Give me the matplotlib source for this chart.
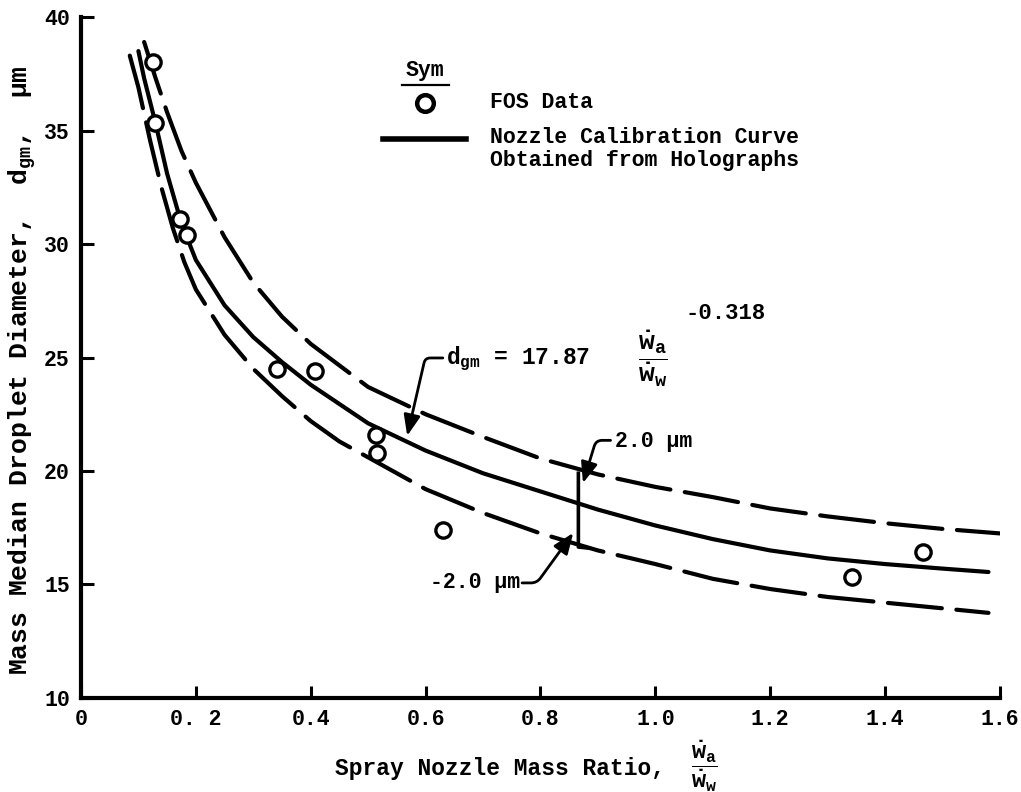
import matplotlib
matplotlib.use('Agg')
import matplotlib.pyplot as plt
from matplotlib.lines import Line2D

# ---- data ----
fos_x = [0.126, 0.129, 0.172, 0.184, 0.341, 0.407, 0.514, 0.516, 0.631, 1.342, 1.466]
fos_y = [38.0, 35.35, 31.1, 30.4, 24.5, 24.4, 21.6, 20.8, 17.4, 15.35, 16.45]

# calibration curve (solid) as drawn
curve_x = [0.10, 0.11, 0.12, 0.13, 0.15, 0.175, 0.20, 0.25, 0.30, 0.35, 0.40, 0.50,
           0.60, 0.70, 0.80, 0.90, 1.00, 1.10, 1.20, 1.30, 1.40, 1.50, 1.58]
curve_y = [38.5, 37.3, 36.3, 35.3, 33.1, 30.9, 29.3, 27.3, 25.9, 24.8, 23.8, 22.1,
           20.9, 19.9, 19.1, 18.3, 17.6, 17.0, 16.5, 16.15, 15.9, 15.7, 15.55]

# +2.0 um band (upper dashed)
upper_x = [0.11, 0.13, 0.15, 0.175, 0.20, 0.25, 0.30, 0.35, 0.40, 0.50, 0.60, 0.70,
           0.80, 0.90, 1.00, 1.10, 1.20, 1.30, 1.40, 1.50, 1.60]
upper_y = [38.9, 37.3, 35.8, 34.1, 32.7, 30.3, 28.3, 26.8, 25.6, 23.7, 22.5, 21.5,
           20.55, 19.85, 19.3, 18.85, 18.35, 18.0, 17.7, 17.45, 17.25]

# -2.0 um band (lower dashed)
lower_x = [0.085, 0.10, 0.12, 0.14, 0.16, 0.18, 0.20, 0.25, 0.30, 0.35, 0.40, 0.45,
           0.50, 0.60, 0.70, 0.80, 0.90, 1.00, 1.10, 1.20, 1.30, 1.40, 1.50, 1.58]
lower_y = [38.3, 36.9, 34.6, 32.5, 30.7, 29.2, 28.0, 26.0, 24.5, 23.3, 22.2, 21.3,
           20.6, 19.2, 18.15, 17.25, 16.5, 15.9, 15.25, 14.8, 14.45, 14.2, 13.95, 13.75]

xticks = [0, 0.2, 0.4, 0.6, 0.8, 1.0, 1.2, 1.4, 1.6]
xtick_labels = ['0', '0. 2', '0.4', '0.6', '0.8', '1.0', '1.2', '1.4', '1.6']
yticks = [10, 15, 20, 25, 30, 35, 40]

# ---- style ----
FONT = ['Liberation Mono', 'DejaVu Sans Mono']
plt.rcParams['font.family'] = FONT
plt.rcParams['font.weight'] = 'bold'
plt.rcParams['mathtext.fontset'] = 'custom'
plt.rcParams['mathtext.rm'] = 'Liberation Mono:bold'
plt.rcParams['mathtext.it'] = 'Liberation Mono:bold'
plt.rcParams['mathtext.bf'] = 'Liberation Mono:bold'
INK = 'black'
LW = 3.0
DASH = (0, (13, 3.5))

fig = plt.figure(figsize=(10.21, 7.92), dpi=100, facecolor='white')
ax = fig.add_axes([0.0793, 0.1187, 0.9001, 0.8598])
ax.set_xlim(0, 1.6)
ax.set_ylim(10, 40)

for side in ('top', 'right'):
    ax.spines[side].set_visible(False)
for side in ('left', 'bottom'):
    ax.spines[side].set_linewidth(3)

ax.set_xticks(xticks)
ax.set_xticklabels(xtick_labels)
ax.set_yticks(yticks)
ax.tick_params(direction='in', length=9, width=2.2, labelsize=15.5, pad=8)

# curves
ax.plot(curve_x, curve_y, color=INK, lw=LW, solid_capstyle='round')
ax.plot(upper_x, upper_y, color=INK, lw=LW, ls=DASH, dash_capstyle='round')
ax.plot(lower_x, lower_y, color=INK, lw=LW, ls=DASH, dash_capstyle='round')
ax.plot(fos_x, fos_y, 'o', ms=11, mfc='white', mec=INK, mew=2.4, ls='none')

# ---- legend drawn by hand ----
tA = ax.transAxes
ax.text(0.374, 0.922, 'Sym', transform=tA, ha='center', va='center', fontsize=15.5)
ax.add_line(Line2D([0.349, 0.400], [0.900, 0.900], transform=tA, color=INK, lw=1.6))
ax.plot([0.374], [0.874], 'o', transform=tA, ms=12, mfc='white', mec=INK, mew=3.2)
ax.text(0.445, 0.874, 'FOS Data', transform=tA, va='center', fontsize=15.5)
ax.add_line(Line2D([0.329, 0.419], [0.821, 0.821], transform=tA, color=INK, lw=LW + 1))
ax.text(0.445, 0.823, 'Nozzle Calibration Curve', transform=tA, va='center', fontsize=15.5)
ax.text(0.445, 0.790, 'Obtained from Holographs', transform=tA, va='center', fontsize=15.5)

# ---- equation callout ----
arrow = dict(arrowstyle='-|>,head_length=0.7,head_width=0.28', color=INK, lw=2,
             mutation_scale=18, shrinkA=0, shrinkB=0)
ax.text(0.636, 24.95, r'd$_{\mathbf{gm}}$ = 17.87', va='center', fontsize=16.5)
ax.text(0.995, 24.93, r'$\dfrac{\dot{w}_a}{\dot{w}_w}$', ha='center', va='center', fontsize=19)
ax.text(1.123, 26.95, '-0.318', ha='center', va='center', fontsize=16)
ax.annotate('', xy=(0.568, 21.55), xytext=(0.630, 24.98),
            arrowprops=dict(arrow, connectionstyle='angle,angleA=0,angleB=77,rad=5'))

# ---- +/- 2.0 um bracket ----
ax.plot([0.866, 0.866, 0.885], [19.9, 16.65, 16.6], color=INK, lw=2.6)
ax.text(0.930, 21.3, '2.0 µm', va='center', fontsize=15.5)
ax.annotate('', xy=(0.874, 19.47), xytext=(0.922, 21.35),
            arrowprops=dict(arrow, connectionstyle='angle,angleA=0,angleB=73,rad=6'))
ax.text(0.765, 15.07, '-2.0 µm', ha='right', va='center', fontsize=15.5)
ax.annotate('', xy=(0.857, 17.27), xytext=(0.768, 15.07),
            arrowprops=dict(arrow, connectionstyle='angle,angleA=0,angleB=54,rad=6'))

# ---- axis titles ----
fig.text(0.0215, 0.533, r'Mass Median Droplet Diameter,  d$_{\mathbf{gm}}$,  µm',
         rotation=90, ha='center', va='center', fontsize=19)
fig.text(0.651, 0.030, 'Spray Nozzle Mass Ratio,', ha='right', va='center', fontsize=16.5)
fig.text(0.690, 0.033, r'$\dfrac{\dot{w}_a}{\dot{w}_w}$', ha='center', va='center', fontsize=17)

fig.savefig('out.png', dpi=100, facecolor='white')
